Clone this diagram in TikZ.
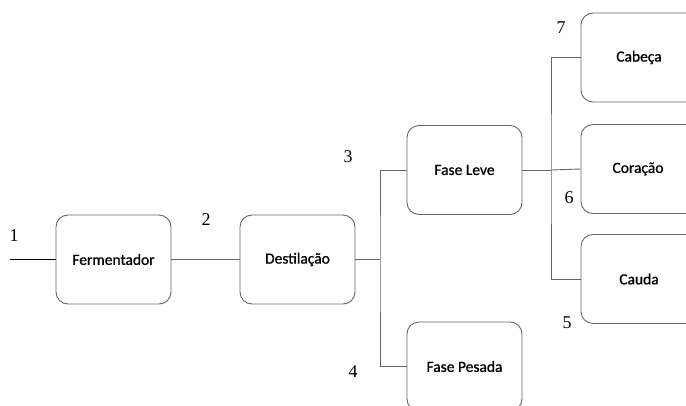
\documentclass[tikz,border=0pt]{standalone}
\usepackage{fontspec}
\setmainfont{Liberation Serif}
\newfontfamily\boxfont[FakeBold=0.9]{Carlito}
\begin{document}
\begin{tikzpicture}[x=1pt,y=-1pt,
  stage/.style={draw=black!60, line width=0.9pt, rounded corners=12pt, fill=white,
    minimum width=115pt, minimum height=89pt, font=\boxfont\fontsize{15.5}{17}\selectfont, inner sep=0pt},
  wide/.style={minimum width=150pt},
  link/.style={draw=black!60, line width=0.9pt},
  label/.style={font=\boxfont\fontsize{15.5}{17}\selectfont, inner sep=0pt},
  num/.style={font=\fontsize{18}{20}\selectfont, inner sep=0pt}]
\useasboundingbox (0,0) rectangle (686,405);
\begin{scope}
\clip (0,0) rectangle (686,405);
% process stages
\node[stage] (ferm) at (113.5,259.5) {Fermentador};
\node[stage] (dest) at (297.5,259.5) {Destilação};
\node[stage] (leve) at (464.5,170) {Fase Leve};
\node[stage] (pesada) at (464.5,366.5) {Fase Pesada};
\node[stage, wide, anchor=west] (cabeca) at (580.5,57.5) {};
\node[stage, wide, anchor=west] (coracao) at (580.5,169) {};
\node[stage, wide, anchor=west] (cauda) at (580.5,279) {};
\node[label] at (639,57.5) {Cabeça};
\node[label] at (638,169) {Coração};
\node[label] at (639,279) {Cauda};
% junction points
\coordinate (in) at (10,259.5);
\coordinate (j1) at (380,259.5);
\coordinate (j2) at (551,170);
% connectors
\draw[line width=1pt, black] (in) -- (ferm.west);
\draw[link] (ferm.east) -- (dest.west);
\draw[link] (dest.east) -- (j1);
\draw[link] (leve.west) -| (j1) |- (pesada.west);
\draw[link] (leve.east) -- (j2);
\draw[link] (cabeca.west) -| (j2) |- (cauda.west);
\draw[link] (j2) -- (coracao.west);
% stream numbers
\node[num] at (14,236) {1};
\node[num] at (206,220) {2};
\node[num] at (348,157) {3};
\node[num] at (353,372) {4};
\node[num] at (567,323) {5};
\node[num] at (569,198) {6};
\node[num] at (561,28) {7};
\end{scope}
\end{tikzpicture}
\end{document}
